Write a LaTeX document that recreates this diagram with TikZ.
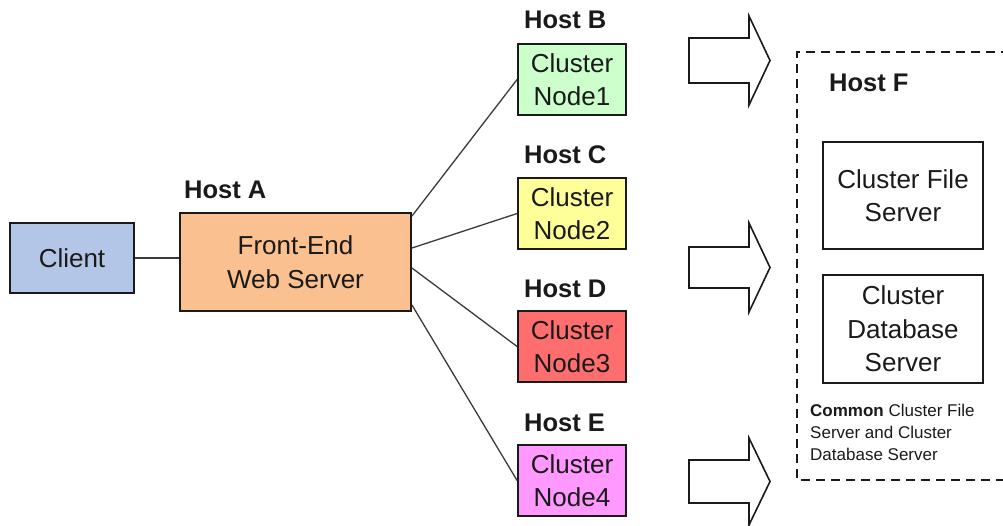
\documentclass[tikz,border=0pt]{standalone}
\usepackage{fontspec}
\setmainfont{Liberation Sans}
\usetikzlibrary{calc}
\definecolor{txt}{HTML}{1A1A1A}
\definecolor{clientc}{HTML}{B4C6E7}
\definecolor{fec}{HTML}{FAC090}
\definecolor{n1c}{HTML}{CCFFCC}
\definecolor{n2c}{HTML}{FFFF99}
\definecolor{n3c}{HTML}{FF6E6E}
\definecolor{n4c}{HTML}{FF99FF}
\definecolor{linec}{HTML}{3A3A3A}
\tikzset{
  box/.style={draw=txt, line width=1.8pt, rectangle, inner sep=0pt, align=center, text=txt,
    font=\fontsize{26}{33.5}\selectfont},
  cnode/.style={box, minimum width=108pt, minimum height=71pt},
  hostlbl/.style={anchor=west, inner sep=0pt, text=txt, font=\fontsize{25.5}{28}\selectfont\bfseries},
  conn/.style={draw=linec, line width=1.3pt},
  blockarrow/.style={draw=txt, line width=1.6pt, fill=white, line join=miter},
}
\begin{document}
\begin{tikzpicture}[x=1pt, y=-1pt]
\useasboundingbox (0,0) rectangle (1003,525);
% dashed host F box
\draw[draw=txt, line width=1.5pt, dash pattern=on 9pt off 6pt] (1040,52) -- (797,52) -- (797,480) -- (1040,480);
\node[hostlbl] (hf) at (829,83) {Host F};
\node[box, minimum width=160pt, minimum height=107pt] (fs) at (903,195.5) {Cluster File\\Server};
\node[box, minimum width=160pt, minimum height=108pt] (db) at (903,329) {Cluster\\Database\\Server};
\node[anchor=north west, inner sep=0pt, align=left, text=txt, font=\fontsize{17}{22}\selectfont] (common) at (810,404)
  {\textbf{Common} Cluster File\\Server and Cluster\\Database Server};

% left side
\node[box, fill=clientc, minimum width=124pt, minimum height=70pt] (client) at (72,258) {Client};
\node[box, fill=fec, minimum width=231pt, minimum height=98pt] (fe) at (295.5,262) {Front-End\\Web Server};
\node[hostlbl] (ha) at (184,190) {Host A};

\node[cnode, fill=n1c] (n1) at (572,79.5) {Cluster\\Node1};
\node[cnode, fill=n2c] (n2) at (572,213.5) {Cluster\\Node2};
\node[cnode, fill=n3c] (n3) at (572,346.5) {Cluster\\Node3};
\node[cnode, fill=n4c] (n4) at (572,480.5) {Cluster\\Node4};
\node[hostlbl] (hb) at (524,20) {Host B};
\node[hostlbl] (hc) at (524,155) {Host C};
\node[hostlbl] (hd) at (524,289) {Host D};
\node[hostlbl] (he) at (524,423) {Host E};

% connectors
\draw[conn] (client.east |- 0,258) -- (fe.west |- 0,258);
\coordinate (s1) at ($(fe.north east)!0.04!(fe.south east)$);
\coordinate (s2) at ($(fe.north east)!0.36!(fe.south east)$);
\coordinate (s3) at ($(fe.north east)!0.56!(fe.south east)$);
\coordinate (s4) at ($(fe.north east)!0.93!(fe.south east)$);
\draw[conn] (s1) -- (n1.west);
\draw[conn] (s2) -- (n2.west);
\draw[conn] (s3) -- (n3.west);
\draw[conn] (s4) -- (n4.west);

% block arrows
\draw[blockarrow] (689,38) -- (749,38) -- (749,16) -- (770,60.5) -- (749,105) -- (749,83) -- (689,83) -- cycle;
\draw[blockarrow] (689,247) -- (749,247) -- (749,223) -- (770,267.5) -- (749,312) -- (749,288) -- (689,288) -- cycle;
\draw[blockarrow] (689,460) -- (749,460) -- (749,438) -- (770,481.5) -- (749,525) -- (749,503) -- (689,503) -- cycle;
\end{tikzpicture}
\end{document}
